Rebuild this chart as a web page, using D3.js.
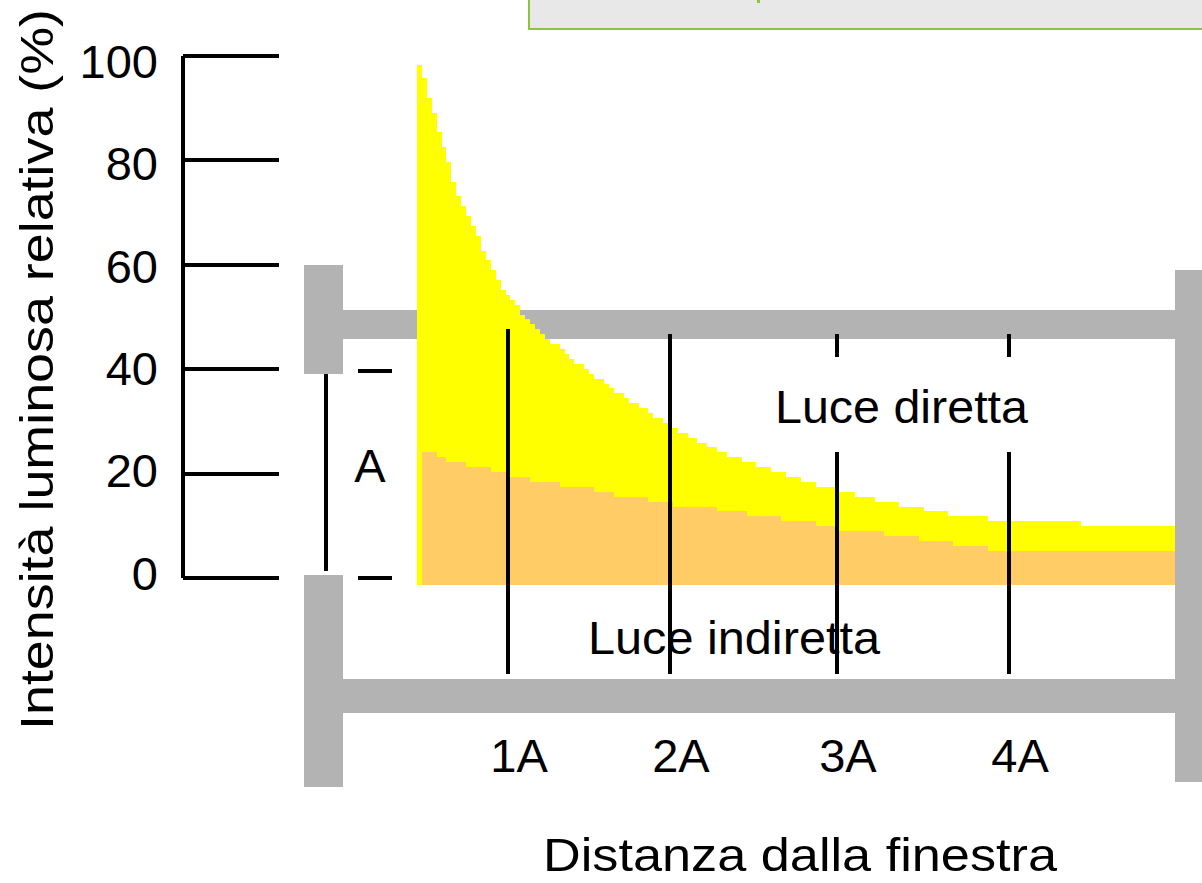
<!DOCTYPE html>
<html>
<head>
<meta charset="utf-8">
<script src="https://cdn.jsdelivr.net/npm/d3@7"></script>
<style>
  body { margin: 0; background: #fff; }
  svg { display: block; font-family: "Liberation Sans", Arial, sans-serif; }
  .label { font-size: 47px; fill: #000; }
</style>
</head>
<body>
<script>
// ---------------------------- DATA ----------------------------
// y axis ticks (% of relative light intensity)
const yTicks = [0, 20, 40, 60, 80, 100];

// distance markers, in units of A (window height)
const markerDist = [1, 1.97, 2.97, 4];
const markerLabels = ["1A", "2A", "3A", "4A"];

// direct + indirect light (step starts in A, value in %)
const directX = [0.455, 0.485, 0.515, 0.545, 0.575, 0.605, 0.629, 0.659, 0.689, 0.719,
    0.749, 0.778, 0.808, 0.838, 0.868, 0.898, 0.928, 0.958, 0.988, 1.012,
    1.042, 1.072, 1.102, 1.132, 1.162, 1.192, 1.222, 1.251, 1.311, 1.341,
    1.365, 1.395, 1.455, 1.485, 1.515, 1.575, 1.605, 1.635, 1.695, 1.725,
    1.784, 1.838, 1.868, 1.928, 1.958, 2.018, 2.078, 2.132, 2.192, 2.251,
    2.311, 2.401, 2.485, 2.575, 2.665, 2.754, 2.844, 2.958, 3.078, 3.198,
    3.341, 3.491, 3.635, 3.874, 4.431];
const directVal = [100, 97.5, 93.7, 90.8, 87.1, 84.2, 81.3, 77.5, 74.8, 72.9,
    71.0, 69.0, 67.1, 64.2, 62.5, 60.6, 58.7, 56.7, 55.8, 54.8,
    53.8, 51.9, 51.2, 50.2, 49.2, 48.3, 47.3, 46.3, 45.4, 44.4,
    43.5, 42.5, 41.5, 40.6, 39.6, 38.7, 37.9, 36.9, 36.0, 35.0,
    34.0, 33.1, 32.1, 31.2, 30.2, 29.2, 28.3, 27.3, 26.5, 25.6,
    24.6, 23.7, 22.7, 21.7, 20.8, 19.8, 18.8, 17.9, 16.9, 16.0,
    15.0, 14.2, 13.3, 12.3, 11.3];

// indirect light only
const indirectX = [0.485, 0.575, 0.629, 0.749, 0.898, 1.012, 1.132, 1.311, 1.515, 1.635,
    1.838, 1.988, 2.251, 2.431, 2.635, 2.844, 2.976, 3.251, 3.461, 3.665, 3.874];
const indirectVal = [25.6, 24.6, 23.7, 22.7, 21.7, 20.8, 19.8, 18.8, 17.9, 16.9,
    16.0, 15.0, 14.2, 13.3, 12.3, 11.3, 10.4, 9.4, 8.5, 7.5, 6.5];

const xEnd = 4.994; // far wall

// ---------------------------- SETUP ----------------------------
const width = 1202;
const height = 883;

const svg = d3.select("body").append("svg")
    .attr("width", width)
    .attr("height", height)
    .attr("shape-rendering", "crispEdges");

const x = d3.scaleLinear().domain([0, 5]).range([341, 1176]);
const y = d3.scaleLinear().domain([0, 100]).range([577.5, 55.5]);      // axis ticks
const yLab = d3.scaleLinear().domain([0, 100]).range([572.5, 61]);     // tick labels
const yFill = d3.scaleLinear().domain([0, 100]).range([585, 65]);      // filled areas

const grey = "#b3b3b3";

// top box (cut off at the edge)
svg.append("rect")
    .attr("x", 529).attr("y", -10)
    .attr("width", 700).attr("height", 39)
    .attr("fill", "#e8e8e8")
    .attr("stroke", "#8cc43c")
    .attr("stroke-width", 2);
svg.append("rect")
    .attr("x", 757).attr("y", 0).attr("width", 3).attr("height", 3)
    .attr("fill", "#8cc43c");

// ---------------------------- ROOM SECTION ----------------------------
const room = svg.append("g").attr("fill", grey);
room.append("rect").attr("x", 304).attr("y", 265).attr("width", 39).attr("height", 109); // wall above window
room.append("rect").attr("x", 304).attr("y", 575).attr("width", 39).attr("height", 212); // wall below window
room.append("rect").attr("x", 343).attr("y", 310).attr("width", 840).attr("height", 29); // ceiling
room.append("rect").attr("x", 343).attr("y", 679).attr("width", 840).attr("height", 34); // floor
room.append("rect").attr("x", 1175).attr("y", 270).attr("width", 27).attr("height", 512); // far wall

// ---------------------------- AREAS ----------------------------
function steps(xs, vs) {
    const pts = xs.map((d, i) => ({ d: d, v: vs[i] }));
    pts.push({ d: xEnd, v: vs[vs.length - 1] });
    return pts;
}

const area = d3.area()
    .curve(d3.curveStepAfter)
    .x(p => x(p.d))
    .y0(yFill(0))
    .y1(p => yFill(p.v));

svg.append("path")
    .datum(steps(directX, directVal))
    .attr("d", area)
    .attr("fill", "#ffff00");

svg.append("path")
    .datum(steps(indirectX, indirectVal))
    .attr("d", area)
    .attr("fill", "#ffcc66");

// ---------------------------- MARKERS ----------------------------
svg.append("g")
    .selectAll("line")
    .data(markerDist)
    .join("line")
    .attr("x1", d => x(d)).attr("x2", d => x(d))
    .attr("y1", (d, i) => i === 0 ? 329 : 334).attr("y2", 674)
    .attr("stroke", "#000")
    .attr("stroke-width", 4);

svg.append("g")
    .selectAll("text")
    .data(markerLabels)
    .join("text")
    .attr("class", "label")
    .attr("x", (d, i) => x(markerDist[i]) + 11)
    .attr("y", 772)
    .attr("text-anchor", "middle")
    .text(d => d);

// window height marker "A"
svg.append("line")
    .attr("x1", 325.5).attr("x2", 325.5)
    .attr("y1", 374).attr("y2", 571)
    .attr("stroke", "#000").attr("stroke-width", 4);
svg.append("g")
    .selectAll("line")
    .data([371, 577.5])
    .join("line")
    .attr("x1", 358).attr("x2", 392)
    .attr("y1", d => d).attr("y2", d => d)
    .attr("stroke", "#000").attr("stroke-width", 4);
svg.append("text")
    .attr("class", "label")
    .attr("x", 370).attr("y", 482)
    .attr("text-anchor", "middle")
    .text("A");

// ---------------------------- Y AXIS ----------------------------
const yAxis = svg.append("g")
    .attr("transform", "translate(182.5,0)")
    .call(d3.axisRight(y).tickValues(yTicks).tickSize(96).tickSizeOuter(0).tickFormat(""));
yAxis.selectAll("path, line")
    .attr("stroke", "#000")
    .attr("stroke-width", 4);

svg.append("g")
    .selectAll("text")
    .data(yTicks)
    .join("text")
    .attr("class", "label")
    .attr("x", 158)
    .attr("y", d => yLab(d) + 17)
    .attr("text-anchor", "end")
    .text(d => d);

svg.append("text")
    .attr("class", "label")
    .attr("transform", "translate(53,730) rotate(-90)")
    .attr("textLength", 721)
    .attr("lengthAdjust", "spacingAndGlyphs")
    .text("Intensità luminosa relativa (%)");

// ---------------------------- TEXT LABELS ----------------------------
svg.append("rect")
    .attr("x", 770).attr("y", 357)
    .attr("width", 265).attr("height", 95)
    .attr("fill", "#fff");
svg.append("text")
    .attr("class", "label")
    .attr("x", 775).attr("y", 423)
    .attr("textLength", 253)
    .attr("lengthAdjust", "spacingAndGlyphs")
    .text("Luce diretta");

svg.append("text")
    .attr("class", "label")
    .attr("x", 588).attr("y", 654)
    .attr("textLength", 292)
    .attr("lengthAdjust", "spacingAndGlyphs")
    .text("Luce indiretta");

svg.append("text")
    .attr("class", "label")
    .attr("x", 543).attr("y", 871)
    .attr("textLength", 514)
    .attr("lengthAdjust", "spacingAndGlyphs")
    .text("Distanza dalla finestra");
</script>
</body>
</html>
